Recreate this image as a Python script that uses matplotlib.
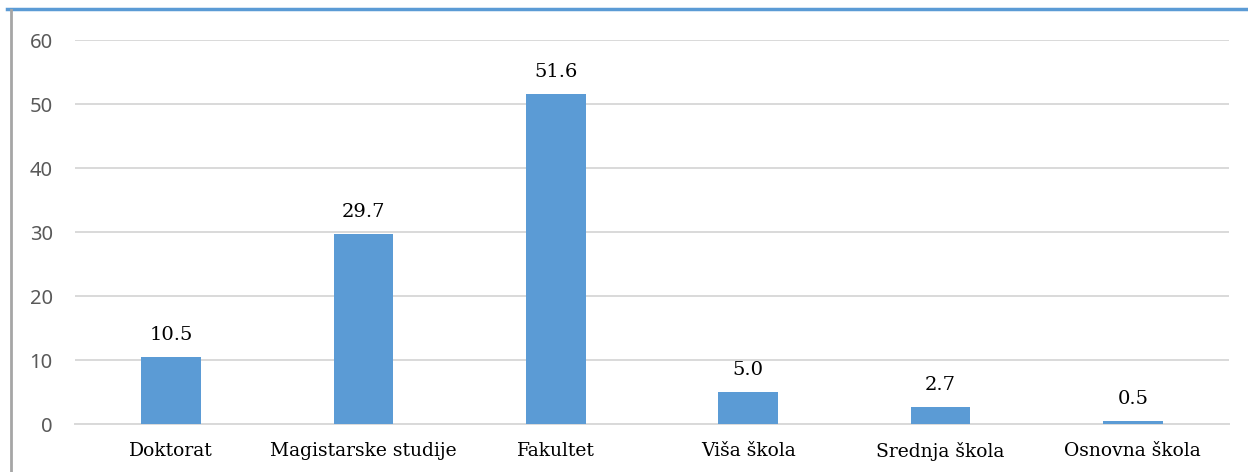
import matplotlib
matplotlib.use("Agg")
import matplotlib.pyplot as plt
from matplotlib.lines import Line2D

categories = ["Doktorat", "Magistarske studije", "Fakultet", "Viša škola", "Srednja škola", "Osnovna škola"]
values = [10.5, 29.7, 51.6, 5.0, 2.7, 0.5]
yticks = [0, 10, 20, 30, 40, 50, 60]

fig = plt.figure(figsize=(12.48, 4.72), dpi=100)
ax = fig.add_axes([75/1248, 1-424/472, (1229-75)/1248, (424-40)/472])

x = list(range(len(categories)))
bars = ax.bar(x, values, width=0.31, color="#5b9bd5", zorder=3)
for xi, v in zip(x, values):
    ax.text(xi, v + 2.0, f"{v:.1f}", ha="center", va="bottom", fontsize=14,
            family="DejaVu Serif", color="#000000")

ax.set_xlim(-0.5, len(categories) - 0.5)
ax.set_ylim(0, 60)
ax.set_yticks(yticks)
ax.set_yticklabels([str(t) for t in yticks], family="Noto Sans", fontsize=14.5, color="#595959")
ax.set_xticks(x)
ax.set_xticklabels(categories, family="DejaVu Serif", fontsize=13.5, color="#000000")
ax.tick_params(axis="both", length=0)
ax.tick_params(axis="y", pad=16)
ax.tick_params(axis="x", pad=13)
ax.grid(axis="y", color="#d9d9d9", linewidth=1.4, zorder=0)
for s in ["top", "right", "left"]:
    ax.spines[s].set_visible(False)
ax.spines["bottom"].set_color("#d9d9d9")
ax.spines["bottom"].set_linewidth(1.4)

# outer frame lines
fig.add_artist(Line2D([7/1248, 1], [1-9/472, 1-9/472], transform=fig.transFigure, color="#5b9bd5", linewidth=2.5))
fig.add_artist(Line2D([11/1248, 11/1248], [0, 1-10/472], transform=fig.transFigure, color="#a6a6a6", linewidth=2))

fig.savefig("out.png", dpi=100)
